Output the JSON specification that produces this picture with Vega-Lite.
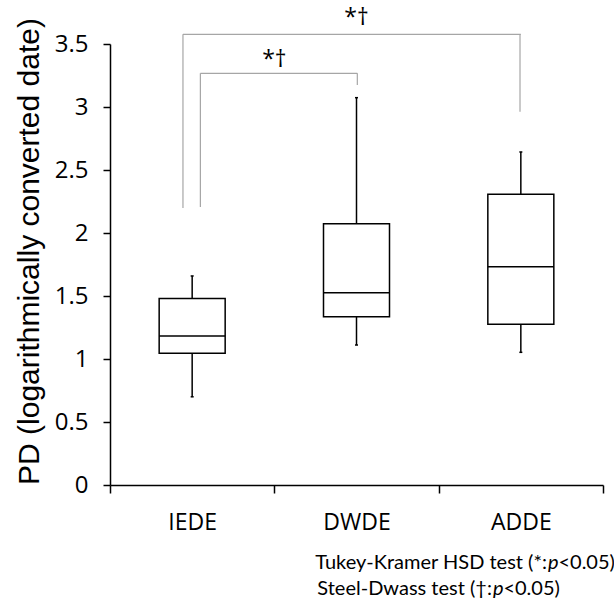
{
  "$schema": "https://vega.github.io/schema/vega-lite/v6.json",
  "width": 493,
  "height": 441,
  "autosize": {"type": "none"},
  "padding": {"left": 110, "top": 44, "right": 11, "bottom": 115},
  "background": "white",
  "config": {
    "view": {"stroke": null},
    "axis": {"grid": false, "domainColor": "black", "tickColor": "black", "labelColor": "black", "titleColor": "black", "domainWidth": 1.5, "tickWidth": 1.5},
    "axisY": {"labelFont": "Open Sans", "labelFontSize": 24, "labelPadding": 15, "tickSize": 7, "format": ".1~f", "titleFont": "Liberation Sans", "titleFontSize": 30, "titleFontWeight": "normal", "titleBaseline": "alphabetic", "titleX": -72, "titleY": 207, "titleAngle": -90}
  },
  "datasets": {
    "boxes": [
      {"group": "IEDE", "min": 0.70, "q1": 1.045, "median": 1.183, "q3": 1.48, "max": 1.659},
      {"group": "DWDE", "min": 1.111, "q1": 1.336, "median": 1.526, "q3": 2.074, "max": 3.074},
      {"group": "ADDE", "min": 1.053, "q1": 1.275, "median": 1.733, "q3": 2.307, "max": 2.643}
    ],
    "brackets": [
      {"x": 0.444, "x2": 2.5, "y": 3.577, "y2": 3.577},
      {"x": 0.444, "x2": 0.444, "y": 3.577, "y2": 2.198},
      {"x": 2.495, "x2": 2.495, "y": 3.577, "y2": 2.963},
      {"x": 0.55, "x2": 1.505, "y": 3.267, "y2": 3.267},
      {"x": 0.55, "x2": 0.55, "y": 3.267, "y2": 2.206},
      {"x": 1.505, "x2": 1.505, "y": 3.267, "y2": 3.175}
    ],
    "marks": [
      {"label": "*†", "x": 1.5, "y": 3.651},
      {"label": "*†", "x": 1.0, "y": 3.317}
    ],
    "notes": [
      {"a": "Tukey-Kramer HSD test (*:", "p": "p", "b": "<0.05)", "x": 2.665, "y": -0.667},
      {"a": "Steel-Dwass test (†:", "p": "p", "b": "<0.05)", "x": 2.33, "y": -0.873}
    ]
  },
  "layer": [
    {
      "data": {"name": "boxes"},
      "encoding": {
        "x": {"field": "group", "type": "nominal", "sort": ["IEDE", "DWDE", "ADDE"],
              "scale": {"paddingInner": 0, "paddingOuter": 0},
              "axis": {"title": null, "labelAngle": 0, "tickBand": "extent", "tickSize": 8, "labelPadding": 36, "labelBaseline": "alphabetic", "labelFont": "Open Sans", "labelFontSize": 23}}
      },
      "layer": [
        {"mark": {"type": "rule", "color": "black", "strokeWidth": 1.5},
         "encoding": {"y": {"field": "min", "type": "quantitative", "title": "PD (logarithmically converted date)", "scale": {"domain": [0, 3.5], "nice": false}, "axis": {"values": [0, 0.5, 1, 1.5, 2, 2.5, 3, 3.5]}}, "y2": {"field": "q1"}}},
        {"mark": {"type": "rule", "color": "black", "strokeWidth": 1.5},
         "encoding": {"y": {"field": "q3", "type": "quantitative", "title": "PD (logarithmically converted date)"}, "y2": {"field": "max"}}},
        {"mark": {"type": "bar", "width": 66, "fill": "white", "stroke": "black", "strokeWidth": 1.5},
         "encoding": {"y": {"field": "q1", "type": "quantitative", "title": "PD (logarithmically converted date)"}, "y2": {"field": "q3"}}},
        {"mark": {"type": "tick", "size": 66, "thickness": 1.5, "color": "black", "opacity": 1},
         "encoding": {"y": {"field": "median", "type": "quantitative", "title": "PD (logarithmically converted date)"}}},
        {"mark": {"type": "tick", "size": 3, "thickness": 1.5, "color": "black", "opacity": 1},
         "encoding": {"y": {"field": "max", "type": "quantitative", "title": "PD (logarithmically converted date)"}}},
        {"mark": {"type": "tick", "size": 3, "thickness": 1.5, "color": "black", "opacity": 1},
         "encoding": {"y": {"field": "min", "type": "quantitative", "title": "PD (logarithmically converted date)"}}}
      ]
    },
    {
      "layer": [
        {
          "data": {"name": "brackets"},
          "mark": {"type": "rule", "color": "#a6a6a6", "strokeWidth": 1.2},
          "encoding": {
            "x": {"field": "x", "type": "quantitative", "scale": {"domain": [0, 3], "nice": false, "zero": false}, "axis": null},
            "x2": {"field": "x2"},
            "y": {"field": "y", "type": "quantitative", "title": "PD (logarithmically converted date)"},
            "y2": {"field": "y2"}
          }
        },
        {
          "data": {"name": "marks"},
          "mark": {"type": "text", "font": "Open Sans", "fontSize": 23, "baseline": "alphabetic", "align": "center", "color": "black"},
          "encoding": {
            "x": {"field": "x", "type": "quantitative", "scale": {"domain": [0, 3], "nice": false, "zero": false}, "axis": null},
            "y": {"field": "y", "type": "quantitative", "title": "PD (logarithmically converted date)"},
            "text": {"field": "label"}
          }
        },
        {
          "data": {"name": "notes"},
          "mark": {"type": "text", "font": "Lato", "fontSize": 20, "baseline": "alphabetic", "align": "right", "dx": -1, "color": "black"},
          "encoding": {
            "x": {"field": "x", "type": "quantitative", "scale": {"domain": [0, 3], "nice": false, "zero": false}, "axis": null},
            "y": {"field": "y", "type": "quantitative", "title": "PD (logarithmically converted date)"},
            "text": {"field": "a"}
          }
        },
        {
          "data": {"name": "notes"},
          "mark": {"type": "text", "font": "Lato", "fontSize": 20, "fontStyle": "italic", "baseline": "alphabetic", "align": "left", "color": "black"},
          "encoding": {
            "x": {"field": "x", "type": "quantitative", "scale": {"domain": [0, 3], "nice": false, "zero": false}, "axis": null},
            "y": {"field": "y", "type": "quantitative", "title": "PD (logarithmically converted date)"},
            "text": {"field": "p"}
          }
        },
        {
          "data": {"name": "notes"},
          "mark": {"type": "text", "font": "Lato", "fontSize": 20, "baseline": "alphabetic", "align": "left", "dx": 10.5, "color": "black"},
          "encoding": {
            "x": {"field": "x", "type": "quantitative", "scale": {"domain": [0, 3], "nice": false, "zero": false}, "axis": null},
            "y": {"field": "y", "type": "quantitative", "title": "PD (logarithmically converted date)"},
            "text": {"field": "b"}
          }
        }
      ]
    }
  ],
  "resolve": {"scale": {"x": "independent"}, "axis": {"x": "independent"}}
}
